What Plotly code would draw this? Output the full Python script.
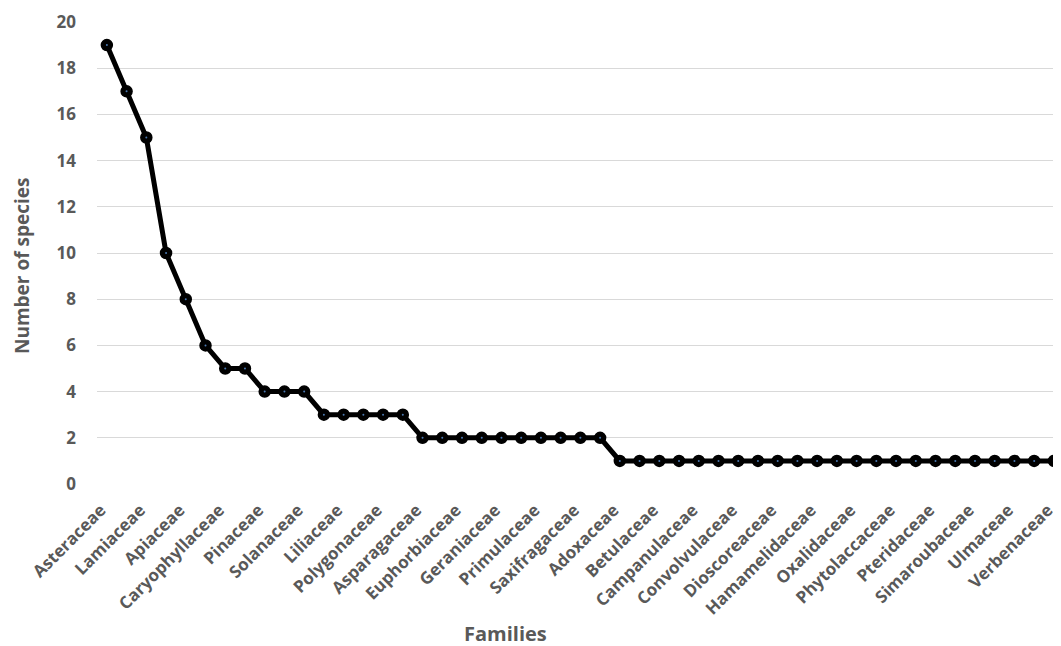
import plotly.graph_objects as go

# Number of species per family (sorted, 49 families)
species_counts = [19, 17, 15, 10, 8, 6, 5, 5, 4, 4, 4, 3, 3, 3, 3, 3,
                  2, 2, 2, 2, 2, 2, 2, 2, 2, 2,
                  1, 1, 1, 1, 1, 1, 1, 1, 1, 1, 1, 1, 1, 1, 1, 1, 1, 1, 1, 1, 1, 1, 1]

# Labels shown on the axis (every second family)
tick_labels = ["Asteraceae", "Lamiaceae", "Apiaceae", "Caryophyllaceae", "Pinaceae",
               "Solanaceae", "Liliaceae", "Polygonaceae", "Asparagaceae", "Euphorbiaceae",
               "Geraniaceae", "Primulaceae", "Saxifragaceae", "Adoxaceae", "Betulaceae",
               "Campanulaceae", "Convolvulaceae", "Dioscoreaceae", "Hamamelidaceae",
               "Oxalidaceae", "Phytolaccaceae", "Pteridaceae", "Simaroubaceae",
               "Ulmaceae", "Verbenaceae"]

y_ticks = [0, 2, 4, 6, 8, 10, 12, 14, 16, 18, 20]

x_title = "Families"
y_title = "Number of species"

x_idx = list(range(len(species_counts)))
tick_pos = x_idx[::2]

FONT = "Open Sans"
GRAY = "#595959"

# page has an 8px body margin; figure fills the rest of the 1061x646 window
W, H = 1053, 638
ML, MR, MT, MB = 89, 0, 14, 162
PW, PH = W - ML - MR, H - MT - MB

fig = go.Figure()
fig.add_trace(go.Scatter(
    x=x_idx, y=species_counts, mode="lines+markers",
    line=dict(color="black", width=5),
    marker=dict(symbol="circle", size=11, color="black",
                line=dict(color="black", width=1.5)),
    showlegend=False, hoverinfo="y",
))
fig.add_trace(go.Scatter(
    x=x_idx, y=species_counts, mode="markers",
    marker=dict(symbol="circle", size=2, color="#4a78b0"),
    showlegend=False, hoverinfo="skip",
))


def page_to_paper(px, py):
    return (px - 8 - ML) / PW, (646 - py - MB) / PH


xt_x, xt_y = page_to_paper(505, 633)
yt_x, yt_y = page_to_paper(22, 266)

fig.update_layout(
    width=W, height=H,
    margin=dict(l=ML, r=MR, t=MT, b=MB),
    paper_bgcolor="white", plot_bgcolor="white",
    font=dict(family=FONT, color=GRAY),
    xaxis=dict(
        range=[-0.5, 48.36], automargin=False,
        tickmode="array", tickvals=tick_pos, ticktext=tick_labels,
        tickangle=-45, showgrid=False, zeroline=False, showline=False,
        ticks="", ticklabeloverflow="allow", ticklabelstandoff=12,
        ticklabelshift=-6,
        tickfont=dict(family=FONT, size=17, color=GRAY, weight="bold"),
    ),
    yaxis=dict(
        range=[0, 20], automargin=False, tickmode="array", tickvals=y_ticks,
        showgrid=True, gridcolor="#d9d9d9", gridwidth=1,
        zeroline=False, showline=False, ticks="", ticklabelstandoff=20,
        tickfont=dict(family=FONT, size=17, color=GRAY, weight="bold"),
    ),
    annotations=[
        dict(text="<b>" + x_title + "</b>", x=xt_x, y=xt_y, xref="paper", yref="paper",
             xanchor="center", yanchor="middle", showarrow=False,
             font=dict(family=FONT, size=20, color=GRAY)),
        dict(text="<b>" + y_title + "</b>", x=yt_x, y=yt_y, xref="paper", yref="paper",
             xanchor="center", yanchor="middle", textangle=-90, showarrow=False,
             font=dict(family=FONT, size=19, color=GRAY)),
    ],
)

fig.write_html("out.html")
